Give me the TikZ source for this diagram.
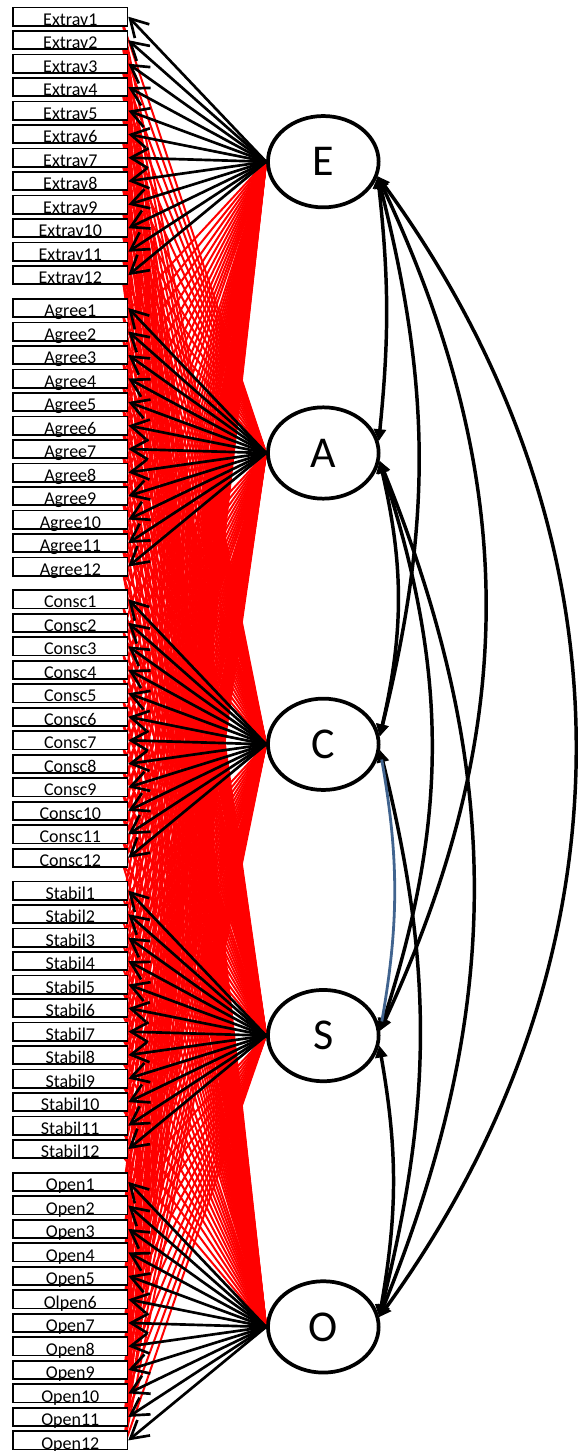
\documentclass[tikz,border=0pt]{standalone}
\usepackage{fontspec}
\setmainfont{Carlito}
\usetikzlibrary{shapes.geometric,arrows.meta}

\pgfdeclarelayer{bg}
\pgfsetlayers{bg,main}

% item text, one of them is spelled differently
\newcommand{\itemlabel}[3]{\ifnum#2=4 \ifnum#3=6 Olpen6\else#1#3\fi\else#1#3\fi}

\tikzset{
  factor/.style={ellipse, draw, fill=white, line width=2.8pt, minimum width=83pt, minimum height=68.5pt, inner sep=0pt, font=\fontsize{33}{36}\selectfont},
  item/.style={draw, fill=white, line width=1.3pt, minimum width=85.7pt, minimum height=13.7pt, inner sep=0pt, text height=13pt, text depth=0pt, font=\fontsize{13.5}{15}\selectfont},
  load/.style={line width=2pt, -{Straight Barb[length=13pt,width=15pt]}},
  cross/.style={red, line width=1.5pt},
  cov/.style={line width=2.6pt, arrows={Triangle[length=9pt,width=9pt]-Triangle[length=9pt,width=9pt]}},
}

\begin{document}
\begin{tikzpicture}[x=0.75pt,y=-0.75pt]
\useasboundingbox (0,0) rectangle (581,1451);

% factors and their twelve items
\foreach \f/\lab/\g in {E/Extrav/0,A/Agree/1,C/Consc/2,S/Stabil/3,O/Open/4}{
  \node[factor] (\f) at (323.3,{161.7+291.3*\g}) {\f};
  \foreach \k in {1,...,12}
    \node[item] (\f\k) at (70.3,{16.7+291.3*\g+23.5*(\k-1)}) {\itemlabel{\lab}{\g}{\k}};
}

% cross loadings
\begin{pgfonlayer}{bg}
\foreach \f/\i in {E/0,A/1,C/2,S/3,O/4}
  \foreach \h/\j in {E/0,A/1,C/2,S/3,O/4}
    \foreach \k in {1,...,12}{
      \ifnum\i=\j\else \draw[cross] (\f.west) -- ([shift={(-5,-2)}]\h\k.south east);\fi
    }
\end{pgfonlayer}

% main loadings
\foreach \f in {E,A,C,S,O}
  \foreach \k in {1,...,12}
    \draw[load] (\f.west) -- (\f\k.east);

% factor covariances
\draw[cov] (E.-15) to[bend left=6] (A.12);
\draw[cov] (E.-15) to[bend left=14] (C.8);
\draw[cov] (E.-15) to[bend left=25] (S.5);
\draw[cov] (E.-15) to[bend left=36] (O.10);
\draw[cov] (A.-8) to[bend left=13] (C.8);
\draw[cov] (A.-8) to[bend left=18] (S.5);
\draw[cov] (A.-8) to[bend left=22] (O.10);
\draw[cov] (C.-6) to[bend left=14] (O.10);
\draw[cov] (S.-10) to[bend left=10] (O.10);
\draw[cov, draw={rgb,255:red,65;green,100;blue,143}, line width=2.1pt,
  arrows={Triangle[length=7pt,width=7pt,color=black]-Triangle[length=7pt,width=7pt,color=black]}]
  (C.-6) to[bend left=10] (S.5);
\end{tikzpicture}
\end{document}
